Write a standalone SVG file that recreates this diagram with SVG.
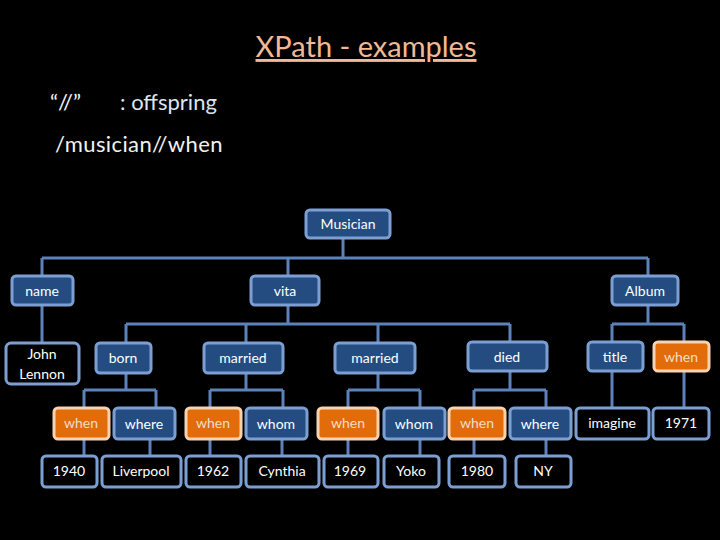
<svg xmlns="http://www.w3.org/2000/svg" width="720" height="540" viewBox="0 0 720 540">
<style>
text{font-family:Lato,"Open Sans","Liberation Sans",sans-serif;}
.b{fill:#244C80;stroke:#7C9FD3;stroke-width:3;}
.o{fill:#E26B0A;stroke:#F9D2B0;stroke-width:3;}
.k{fill:#000;stroke:#7C9FD3;stroke-width:3;}
.t{fill:#fff;font-size:14px;text-anchor:middle;}
.w{fill:#F3DDC8;}
.c{fill:none;stroke:#5B82BA;stroke-width:3;}
</style>
<rect width="720" height="540" fill="#000"/>
<text x="366" y="57" font-size="29" fill="#F2B995" text-anchor="middle" text-decoration="underline">XPath - examples</text>
<text x="50" y="110" font-size="22" fill="#F2F2F2">“//”</text>
<text x="120" y="110" font-size="22" fill="#DCE6F2">:  offspring</text>
<text x="55" y="152" font-size="22" fill="#F2F2F2" letter-spacing="0.4">/musician//when</text>
<g id="connectors">
<path class="c" d="M343 239V258M42 258H648M42 258V276M288 258V276M648 258V276"/>
<path class="c" d="M42 305V343"/>
<path class="c" d="M288 305V324M126 324H510M126 324V343M246 324V343M378 324V343M510 324V342"/>
<path class="c" d="M648 305V324M612 324H684M612 324V342M684 324V342"/>
<path class="c" d="M126 373V390M84 390H156M84 390V408M156 390V408"/>
<path class="c" d="M246 373V390M210 390H283M210 390V408M283 390V408"/>
<path class="c" d="M378 373V390M348 390H420M348 390V408M420 390V408"/>
<path class="c" d="M510 371V390M474 390H546M474 390V408M546 390V408"/>
<path class="c" d="M612 371V408M684 371V408"/>
<path class="c" d="M84 439V456M150 439V456M210 439V456M282 439V456M348 439V456M420 439V456M474 439V456M546 439V456"/>
</g>
<g id="musician"><rect class="b" x="306" y="210" width="84" height="28" rx="4"/><text class="t" x="348" y="229">Musician</text></g>
<g id="name"><rect class="b" x="12" y="276" width="61" height="29" rx="4"/><text class="t" x="42" y="296">name</text></g>
<g id="vita"><rect class="b" x="251" y="276" width="68" height="29" rx="4"/><text class="t" x="285" y="296">vita</text></g>
<g id="album"><rect class="b" x="612" y="276" width="66" height="29" rx="4"/><text class="t" x="645" y="296">Album</text></g>
<g id="johnlennon"><rect class="k" x="6" y="343" width="73" height="41" rx="5"/><text class="t" x="42" y="359">John</text><text class="t" x="42" y="379">Lennon</text></g>
<g id="born"><rect class="b" x="96" y="343" width="55" height="30" rx="4"/><text class="t" x="123" y="363">born</text></g>
<g id="married1"><rect class="b" x="204" y="343" width="79" height="30" rx="4"/><text class="t" x="243" y="363">married</text></g>
<g id="married2"><rect class="b" x="335" y="343" width="80" height="30" rx="4"/><text class="t" x="375" y="363">married</text></g>
<g id="died"><rect class="b" x="468" y="342" width="79" height="29" rx="4"/><text class="t" x="507" y="362">died</text></g>
<g id="title"><rect class="b" x="588" y="342" width="55" height="29" rx="4"/><text class="t" x="615" y="362">title</text></g>
<g id="when-album"><rect class="o" x="654" y="342" width="55" height="29" rx="4"/><text class="t w" x="681" y="362">when</text></g>
<g id="when1"><rect class="o" x="54" y="408" width="55" height="31" rx="4"/><text class="t w" x="81" y="428">when</text></g>
<g id="where1"><rect class="b" x="114" y="408" width="61" height="31" rx="4"/><text class="t" x="144" y="429">where</text></g>
<g id="when2"><rect class="o" x="186" y="408" width="55" height="31" rx="4"/><text class="t w" x="213" y="428">when</text></g>
<g id="whom1"><rect class="b" x="246" y="408" width="61" height="31" rx="4"/><text class="t" x="276" y="429">whom</text></g>
<g id="when3"><rect class="o" x="318" y="408" width="60" height="31" rx="4"/><text class="t w" x="348" y="428">when</text></g>
<g id="whom2"><rect class="b" x="384" y="408" width="61" height="31" rx="4"/><text class="t" x="414" y="429">whom</text></g>
<g id="when4"><rect class="o" x="449" y="408" width="56" height="31" rx="4"/><text class="t w" x="477" y="428">when</text></g>
<g id="where4"><rect class="b" x="510" y="408" width="61" height="31" rx="4"/><text class="t" x="540" y="429">where</text></g>
<g id="imagine"><rect class="k" x="576" y="408" width="73" height="31" rx="4"/><text class="t" x="612" y="428">imagine</text></g>
<g id="y1971"><rect class="k" x="653" y="408" width="56" height="31" rx="4"/><text class="t" x="681" y="428">1971</text></g>
<g id="y1940"><rect class="k" x="42" y="456" width="55" height="31" rx="4"/><text class="t" x="69" y="476">1940</text></g>
<g id="liverpool"><rect class="k" x="102" y="456" width="79" height="31" rx="4"/><text class="t" x="141" y="476">Liverpool</text></g>
<g id="y1962"><rect class="k" x="186" y="456" width="55" height="31" rx="4"/><text class="t" x="213" y="476">1962</text></g>
<g id="cynthia"><rect class="k" x="246" y="456" width="73" height="31" rx="4"/><text class="t" x="282" y="476">Cynthia</text></g>
<g id="y1969"><rect class="k" x="324" y="456" width="54" height="31" rx="4"/><text class="t" x="350" y="476">1969</text></g>
<g id="yoko"><rect class="k" x="384" y="456" width="55" height="31" rx="4"/><text class="t" x="411" y="476">Yoko</text></g>
<g id="y1980"><rect class="k" x="449" y="456" width="56" height="31" rx="4"/><text class="t" x="477" y="476">1980</text></g>
<g id="ny"><rect class="k" x="516" y="456" width="55" height="31" rx="4"/><text class="t" x="543" y="476">NY</text></g>
</svg>
